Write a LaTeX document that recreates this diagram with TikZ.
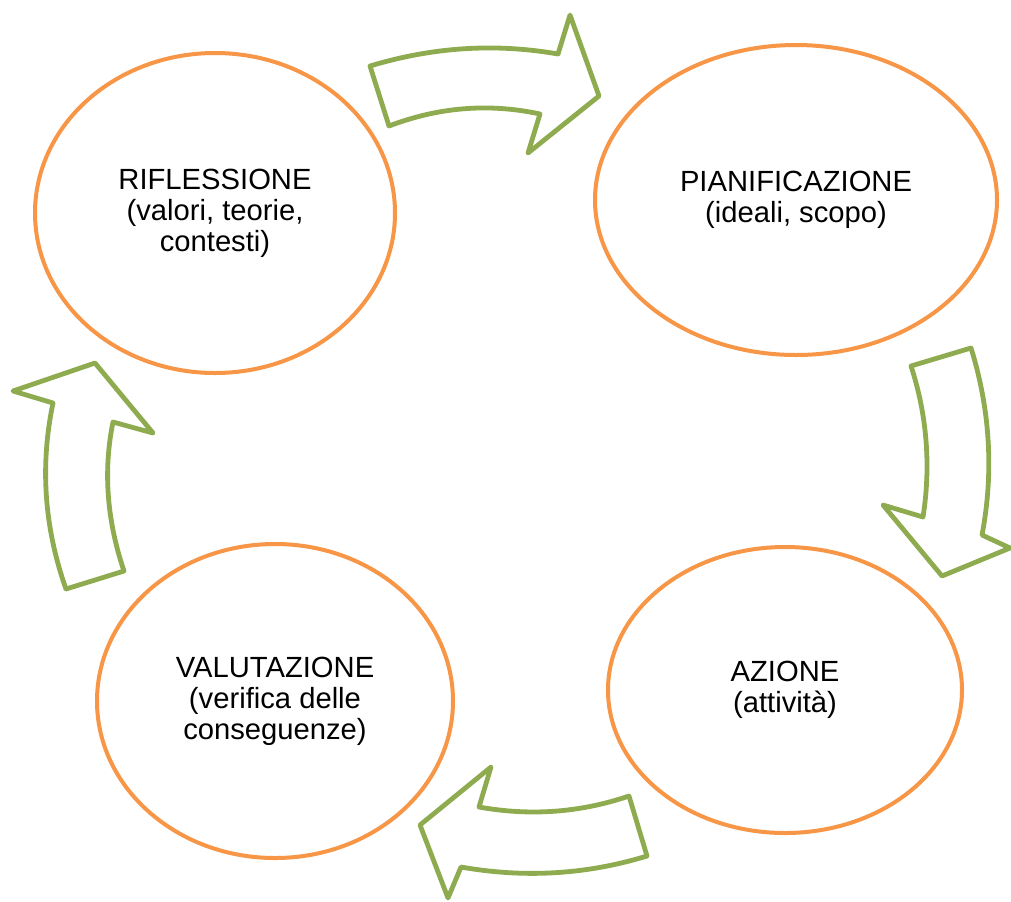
\documentclass[tikz,border=0pt]{standalone}
\usepackage{fontspec}
\setmainfont{Liberation Sans}
\usetikzlibrary{shapes.geometric}
\definecolor{ringorange}{HTML}{F79646}
\definecolor{arrowgreen}{HTML}{8EAC4F}
\tikzstyle{ring}=[ellipse, draw=ringorange, line width=2pt, fill=white, align=center, inner sep=0pt, font=\fontsize{14.6}{15.5}\selectfont]
\tikzstyle{bigarrow}=[draw=arrowgreen, line width=2.4pt, line join=round, fill=white]

\begin{document}
\begin{tikzpicture}[x=0.5pt, y=-0.5pt]

\useasboundingbox (0,0) rectangle (1011,901);

\node [ring, minimum width=180pt, minimum height=160pt] (refl) at (215, 213) {RIFLESSIONE\\(valori, teorie,\\contesti)};
\node [ring, minimum width=201pt, minimum height=155pt] (pian) at (796, 200) {PIANIFICAZIONE\\(ideali, scopo)};
\node [ring, minimum width=177pt, minimum height=143pt] (azio) at (785, 690) {AZIONE\\(attività)};
\node [ring, minimum width=178pt, minimum height=157pt] (valu) at (275, 701) {VALUTAZIONE\\(verifica delle\\conseguenze)};

\draw [bigarrow] (370,66) .. controls (433,47) and (495,43) .. (558,54) -- (570,15) -- (599,96) -- (528,153) -- (540,114) .. controls (489,103) and (439,107) .. (389,126) -- cycle;
\draw [bigarrow] (911,366) -- (971,348) .. controls (990,409) and (994,472) .. (982,535) -- (1010,548) -- (942,576) -- (883,505) -- (923,517) .. controls (931,466) and (927,415) .. cycle;
\draw [bigarrow] (629,796) -- (647,856) .. controls (585,875) and (523,878) .. (461,867) -- (448,898) -- (420,825) -- (491,767) -- (479,807) .. controls (529,816) and (579,813) .. cycle;
\draw [bigarrow] (66,589) -- (124,571) .. controls (107,521) and (103,471) .. (113,422) -- (153,433) -- (95,363) -- (13,391) -- (53,403) .. controls (40,465) and (44,527) .. cycle;

\end{tikzpicture}
\end{document}
